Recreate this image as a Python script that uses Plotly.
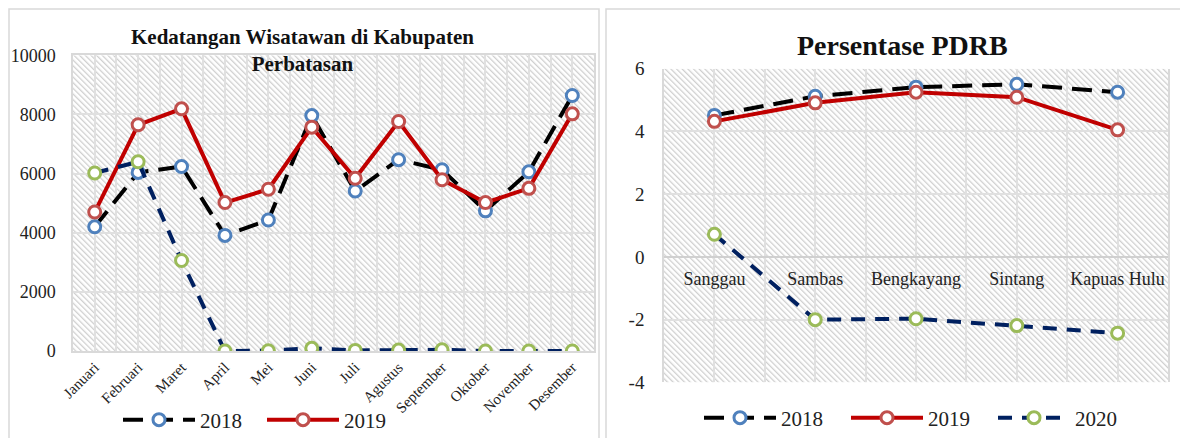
import base64
import plotly.graph_objects as go

# ---------------- data ----------------
months = ["Januari", "Februari", "Maret", "April", "Mei", "Juni", "Juli",
          "Agustus", "September", "Oktober", "November", "Desember"]
wis_2018 = [4200, 6040, 6240, 3910, 4430, 7960, 5410, 6470, 6130, 4740, 6060, 8640]
wis_2019 = [4700, 7650, 8190, 5020, 5470, 7570, 5840, 7760, 5790, 5020, 5500, 8020]
wis_2020 = [6020, 6400, 3060, 0, 10, 90, 20, 30, 40, 0, 0, 0]

regions = ["Sanggau", "Sambas", "Bengkayang", "Sintang", "Kapuas Hulu"]
pdrb_2018 = [4.51, 5.12, 5.41, 5.50, 5.25]
pdrb_2019 = [4.32, 4.91, 5.25, 5.09, 4.05]
pdrb_2020 = [0.72, -2.00, -1.97, -2.19, -2.43]

years = ["2018", "2019", "2020"]
left_ticks = [0, 2000, 4000, 6000, 8000, 10000]
right_ticks = [-4, -2, 0, 2, 4, 6]

# ---------------- styles ----------------
FONT = "Liberation Serif"
WIN_W, WIN_H = 1188, 438
OFF = 8                      # default page body margin
FW, FH = WIN_W - OFF, WIN_H - OFF


def px(x):
    return (x - OFF) / FW


def py(y):
    return (WIN_H - y) / FH


line_col = {"2018": "#000000", "2019": "#C00000", "2020": "#002060"}
mark_col = {"2018": "#4F81BD", "2019": "#C0504D", "2020": "#9BBB59"}
dash = {"2018": "20px,10px", "2019": "solid", "2020": "14px,10px"}
GRID = "#e0e0e0"

L_DOM_X = [px(73), px(594)]
L_DOM_Y = [py(351), py(55.3)]
R_DOM_X = [px(664), px(1168)]
R_DOM_Y = [py(382.4), py(68.65)]


def hatch_uri(wpx, hpx):
    svg = (
        f'<svg xmlns="http://www.w3.org/2000/svg" width="{wpx}" height="{hpx}">'
        '<defs><pattern id="p" width="4" height="4" patternUnits="userSpaceOnUse" '
        'patternTransform="rotate(-45)"><rect width="1.3" height="4" fill="#cfcfcf"/>'
        '</pattern></defs>'
        f'<rect width="{wpx}" height="{hpx}" fill="white"/>'
        f'<rect width="{wpx}" height="{hpx}" fill="url(#p)"/></svg>'
    )
    return "data:image/svg+xml;base64," + base64.b64encode(svg.encode()).decode()


fig = go.Figure()

x_left = list(range(len(months)))
x_right = list(range(len(regions)))
left_series = {"2018": wis_2018, "2019": wis_2019, "2020": wis_2020}
right_series = {"2018": pdrb_2018, "2019": pdrb_2019, "2020": pdrb_2020}

for yr in years:
    fig.add_trace(go.Scatter(
        x=x_left, y=left_series[yr], name=yr, mode="lines+markers",
        xaxis="x", yaxis="y", legend="legend",
        showlegend=(yr != "2020"),
        line=dict(color=line_col[yr], width=4, dash=dash[yr]),
        marker=dict(symbol="circle", size=12, color="white",
                    line=dict(color=mark_col[yr], width=3)),
    ))

for yr in years:
    fig.add_trace(go.Scatter(
        x=x_right, y=right_series[yr], name=yr, mode="lines+markers",
        xaxis="x2", yaxis="y2", legend="legend2",
        line=dict(color=line_col[yr], width=4, dash=dash[yr]),
        marker=dict(symbol="circle", size=12, color="white",
                    line=dict(color=mark_col[yr], width=3)),
    ))

axis_font = dict(family=FONT, size=18, color="#222222")

fig.update_layout(
    width=FW, height=FH,
    margin=dict(l=0, r=0, t=0, b=0, autoexpand=False),
    paper_bgcolor="white", plot_bgcolor="white",
    font=dict(family=FONT, color="#222222"),
    xaxis=dict(
        domain=L_DOM_X, anchor="y", range=[-0.5, len(months) - 0.5],
        tickmode="array", tickvals=x_left, ticktext=months, tickangle=-45,
        tickfont=dict(family=FONT, size=15, color="#222222"),
        showgrid=True, gridcolor=GRID, gridwidth=1.5,
        minor=dict(tickmode="linear", tick0=0.5, dtick=1, showgrid=True,
                   gridcolor=GRID, gridwidth=1.5),
        showline=True, linecolor="#d9d9d9", linewidth=1.5, mirror=True,
        zeroline=False, ticks="", automargin=False,
    ),
    yaxis=dict(
        domain=L_DOM_Y, anchor="x", range=[0, 10000],
        tickmode="array", tickvals=left_ticks, ticktext=[str(v) for v in left_ticks],
        tickfont=axis_font, ticks="outside", ticklen=12, tickcolor="rgba(0,0,0,0)",
        showgrid=True, gridcolor=GRID, gridwidth=1.5,
        showline=True, linecolor="#d9d9d9", linewidth=1.5, mirror=True,
        zeroline=False, automargin=False,
    ),
    xaxis2=dict(
        domain=R_DOM_X, anchor="free",
        position=py(256.9), range=[-0.5, len(regions) - 0.5],
        tickmode="array", tickvals=x_right, ticktext=regions,
        tickfont=dict(family=FONT, size=18, color="#222222"),
        ticks="outside", ticklen=5, tickcolor="rgba(0,0,0,0)",
        showgrid=True, gridcolor=GRID, gridwidth=1.5,
        minor=dict(tickmode="linear", tick0=0.5, dtick=1, showgrid=True,
                   gridcolor=GRID, gridwidth=1.5),
        showline=False, zeroline=False, automargin=False,
    ),
    yaxis2=dict(
        domain=R_DOM_Y, anchor="x2", range=[-4, 6],
        tickmode="array", tickvals=right_ticks, ticktext=[str(v) for v in right_ticks],
        tickfont=dict(family=FONT, size=19, color="#222222"),
        ticks="outside", ticklen=14, tickcolor="rgba(0,0,0,0)",
        showgrid=True, gridcolor=GRID, gridwidth=1.5,
        showline=True, linecolor="#d9d9d9", linewidth=1.5, mirror=True,
        zeroline=True, zerolinecolor="#d0d0d0", zerolinewidth=1.5, automargin=False,
    ),
    legend=dict(
        orientation="h", x=px(118), xanchor="left", y=py(420), yanchor="middle",
        font=dict(family=FONT, size=21, color="#222222"),
        itemwidth=72, entrywidth=57, entrywidthmode="pixels",
        bgcolor="rgba(0,0,0,0)", traceorder="normal",
    ),
    legend2=dict(
        orientation="h", x=px(699), xanchor="left", y=py(418), yanchor="middle",
        font=dict(family=FONT, size=21, color="#222222"),
        itemwidth=72, entrywidth=60, entrywidthmode="pixels",
        bgcolor="rgba(0,0,0,0)", traceorder="normal",
    ),
    images=[
        dict(source=hatch_uri(521, 296), xref="x domain", yref="y domain",
             x=0, y=1, sizex=1, sizey=1, sizing="stretch", layer="below",
             xanchor="left", yanchor="top"),
        dict(source=hatch_uri(504, 314), xref="x2 domain", yref="y2 domain",
             x=0, y=1, sizex=1, sizey=1, sizing="stretch", layer="below",
             xanchor="left", yanchor="top"),
    ],
    shapes=[
        dict(type="rect", xref="paper", yref="paper", x0=px(9), x1=px(599),
             y0=-0.02, y1=py(9), line=dict(color="#d9d9d9", width=1.5),
             fillcolor="rgba(0,0,0,0)", layer="below"),
        dict(type="rect", xref="paper", yref="paper", x0=px(606), x1=1.02,
             y0=-0.02, y1=py(9), line=dict(color="#d9d9d9", width=1.5),
             fillcolor="rgba(0,0,0,0)", layer="below"),
    ],
    annotations=[
        dict(text="<b>Kedatangan Wisatawan di Kabupaten<br>Perbatasan</b>",
             xref="paper", yref="paper", x=px(302), y=py(50),
             xanchor="center", yanchor="middle", showarrow=False,
             font=dict(family=FONT, size=21, color="#111111")),
        dict(text="<b>Persentase PDRB</b>",
             xref="paper", yref="paper", x=px(902), y=py(45),
             xanchor="center", yanchor="middle", showarrow=False,
             font=dict(family=FONT, size=28, color="#111111")),
    ],
)

fig.write_html("out.html")
